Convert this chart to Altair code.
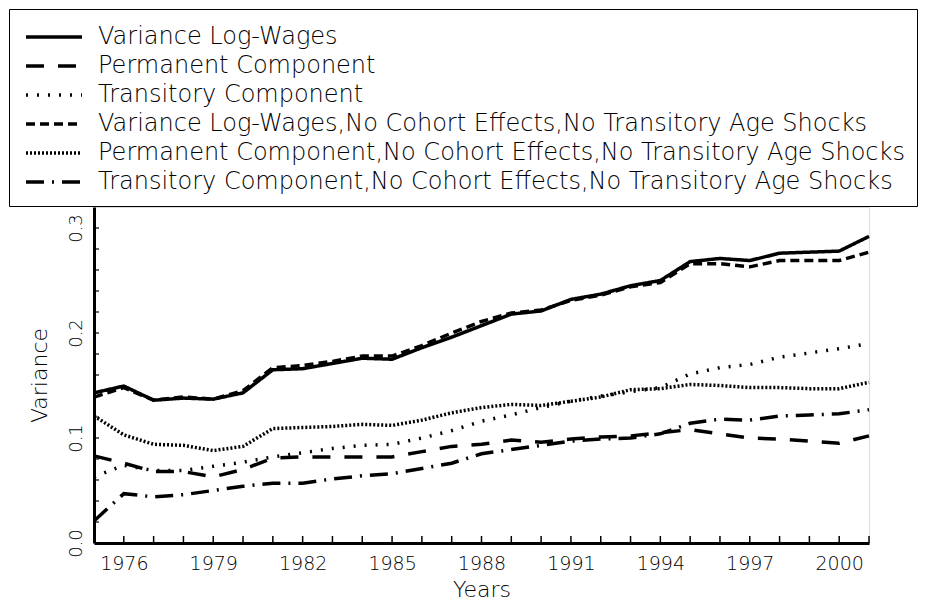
import altair as alt
import pandas as pd

years = list(range(1975, 2002))

series_names = [
    "Variance Log-Wages",
    "Permanent Component",
    "Transitory Component",
    "Variance Log-Wages,No Cohort Effects,No Transitory Age Shocks",
    "Permanent Component,No Cohort Effects,No Transitory Age Shocks",
    "Transitory Component,No Cohort Effects,No Transitory Age Shocks",
]

var_lw = [0.143, 0.1495, 0.136, 0.138, 0.137, 0.143, 0.165, 0.166, 0.171, 0.176,
          0.175, 0.186, 0.196, 0.207, 0.218, 0.221, 0.232, 0.237, 0.245, 0.250,
          0.268, 0.271, 0.269, 0.276, 0.277, 0.278, 0.292]
perm = [0.083, 0.076, 0.068, 0.068, 0.063, 0.070, 0.081, 0.082, 0.082, 0.082,
        0.082, 0.087, 0.092, 0.094, 0.098, 0.096, 0.099, 0.101, 0.102, 0.105,
        0.108, 0.104, 0.100, 0.099, 0.097, 0.095, 0.102]
trans = [0.063, 0.074, 0.069, 0.069, 0.073, 0.077, 0.082, 0.086, 0.090, 0.093,
         0.094, 0.100, 0.107, 0.116, 0.122, 0.129, 0.135, 0.140, 0.144, 0.148,
         0.161, 0.167, 0.170, 0.177, 0.181, 0.185, 0.190]
var_nc = [0.139, 0.148, 0.136, 0.139, 0.137, 0.145, 0.167, 0.169, 0.173, 0.178,
          0.178, 0.188, 0.200, 0.211, 0.219, 0.222, 0.231, 0.236, 0.244, 0.248,
          0.266, 0.266, 0.263, 0.269, 0.269, 0.269, 0.277]
perm_nc = [0.121, 0.103, 0.094, 0.093, 0.088, 0.092, 0.109, 0.110, 0.111, 0.113,
           0.112, 0.117, 0.124, 0.129, 0.132, 0.131, 0.135, 0.139, 0.146, 0.147,
           0.151, 0.150, 0.148, 0.148, 0.147, 0.147, 0.153]
trans_nc = [0.021, 0.047, 0.044, 0.046, 0.050, 0.054, 0.057, 0.057, 0.061, 0.064,
            0.066, 0.071, 0.076, 0.085, 0.089, 0.093, 0.097, 0.099, 0.100, 0.104,
            0.114, 0.118, 0.117, 0.121, 0.122, 0.123, 0.127]

x_tick_years = list(range(1975, 2002))
x_label_years = [1976, 1979, 1982, 1985, 1988, 1991, 1994, 1997, 2000]
y_tick_values = [0.02, 0.04, 0.06, 0.08, 0.10, 0.12, 0.14, 0.16, 0.18, 0.20,
                 0.22, 0.24, 0.26, 0.28, 0.30]
y_label_values = [0.0, 0.1, 0.2, 0.3]

dashes = [[1, 0], [18, 14], [2, 9], [9, 5], [2, 2], [18, 8, 2, 8]]
widths = [3.5, 3.5, 1.5, 3.5, 1.5, 3.5]

all_vals = [var_lw, perm, trans, var_nc, perm_nc, trans_nc]
rows = []
for name, vals in zip(series_names, all_vals):
    for yr, v in zip(years, vals):
        rows.append({"year": yr, "value": v, "series": name})
df = pd.DataFrame(rows)

W, H = 775, 336
FONT = "DejaVu Sans"

legend = alt.Legend(
    title=None, orient="none", legendX=-85, legendY=-198,
    symbolType="M-1,0H3", symbolSize=784, labelOffset=42, symbolOffset=3,
    padding=12, rowPadding=1, labelLimit=2000,
    labelFontSize=24, labelFont=FONT, labelFontWeight=200, labelColor="black",
    strokeColor="black", fillColor="white", symbolStrokeColor="black",
)

x_enc = alt.X("year:Q", scale=alt.Scale(domain=[1975, 2001], nice=False, zero=False),
              axis=alt.Axis(values=x_label_years, format="d", title="Years",
                            ticks=False, tickSize=0, grid=False, domainWidth=3,
                            domainColor="black", labelPadding=11, labelFontSize=19,
                            labelFont=FONT, labelFontWeight=200, labelColor="black",
                            titleFont=FONT, titleFontSize=22, titleFontWeight=200,
                            titleColor="black", titlePadding=6))
y_enc = alt.Y("value:Q", scale=alt.Scale(domain=[0, 0.32], nice=False),
              axis=alt.Axis(values=y_label_values, format=".1f", title="Variance",
                            ticks=False, tickSize=0, grid=False, domainWidth=3,
                            domainColor="black", labelAngle=270, labelAlign="center",
                            labelBaseline="bottom", labelPadding=9, labelFontSize=18,
                            labelFont=FONT, labelFontWeight=200, labelColor="black",
                            titleFont=FONT, titleFontSize=22, titleFontWeight=200,
                            titleColor="black", titlePadding=16))

lines = alt.Chart(df).mark_line(color="black", strokeCap="butt").encode(
    x=x_enc,
    y=y_enc,
    strokeDash=alt.StrokeDash("series:N", sort=series_names,
                              scale=alt.Scale(domain=series_names, range=dashes),
                              legend=legend),
    strokeWidth=alt.StrokeWidth("series:N", sort=series_names,
                                scale=alt.Scale(domain=series_names, range=widths),
                                legend=legend),
)

xt = alt.Chart(pd.DataFrame({"year": x_tick_years})).mark_rule(
    color="black", strokeWidth=1.5).encode(
    x="year:Q", y=alt.value(H), y2=alt.value(H - 7))

yt = alt.Chart(pd.DataFrame({"value": y_tick_values})).mark_rule(
    color="black", strokeWidth=1.2).encode(
    y="value:Q", x=alt.value(0), x2=alt.value(5))

chart = alt.layer(xt, yt, lines).properties(
    width=W, height=H, padding=0
).configure_view(strokeWidth=0).configure(background="white")

chart.save("out.html", embed_options={"renderer": "svg", "actions": False})
